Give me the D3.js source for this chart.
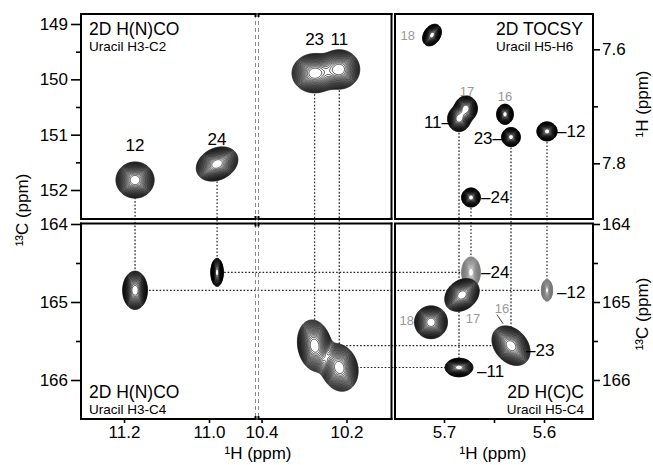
<!DOCTYPE html>
<html>
<head>
<meta charset="utf-8">
<script src="https://cdn.jsdelivr.net/npm/d3@7"></script>
<style>
  html, body { margin: 0; padding: 0; background: #fff; }
  svg text { font-family: "Liberation Sans", Arial, Helvetica, sans-serif; }
</style>
</head>
<body>
<svg id="fig" width="653" height="465"></svg>
<script>
// ---- Uracil assignments (residue numbers) and chemical shifts (ppm) ----
const residues = ["12", "24", "23", "11"];
const h3Shift = [11.174, 10.981, 10.275, 10.217];   // imino H3
const c2Shift = [151.82, 151.53, 149.89, 149.82];   // C2
const c4Shift = [164.85, 164.62, 165.56, 165.84];   // C4
const h5Shift = [5.597, 5.673, 5.633, 5.685];       // H5
const h6Shift = [7.744, 7.860, 7.754, 7.722];       // H6

// Cross-peak line shapes: [sigma 1H, sigma 13C/1H (ppm), correlation]
const c2Shape  = [[0.0177, 0.129, 0], [0.0193, 0.122, 0.25], [0.021, 0.140, 0], [0.019, 0.140, 0]];
const c4Shape  = [[0.0115, 0.097, 0], [0.0058, 0.071, 0], [0.0160, 0.130, -0.15], [0.0175, 0.120, -0.15]];
const h6Shape  = [[0.004, 0.0066, 0], [0.0037, 0.0066, 0], [0.0037, 0.0066, 0], [0.0045, 0.0088, 0]];
const hccShape = [[0.0022, 0.055, 0], [0.0037, 0.078, 0], [0.0075, 0.100, -0.3], [0.0055, 0.047, 0]];
const hccFaint = ["12", "24"];

// Residues without H3 correlations (grey labels)
const otherRes     = ["16", "17", "18"];
const otherH5Tocsy = [5.639, 5.678, 5.712];
const otherH6      = [7.714, 7.704, 7.575];
const otherH6Shape = [[0.0033, 0.0070, 0], [0.0045, 0.0088, 0], [0.0037, 0.0075, 0.3]];
const otherH5Hcc   = [null, 5.682, 5.713];          // 16 overlaps residue 23 in H(C)C
const otherC4      = [null, 164.91, 165.26];
const otherC4Shape = [null, [0.0068, 0.083, 0.25], [0.0065, 0.083, 0]];

// Axis ticks
const c2Ticks = [149, 150, 151, 152], c2Minor = [149.5, 150.5, 151.5];
const c4Ticks = [164, 165, 166],      c4Minor = [164.5, 165.5];
const h6Ticks = [7.6, 7.8],           h6Minor = [7.7];
const h3Ticks = [11.2, 11.0, 10.4, 10.2];
const h5Ticks = [5.7, 5.6],           h5Minor = [5.65];

// ---- layout ----
const svg = d3.select("#fig");
const L = 81, BL = 255.5, BR = 258.5, ML = 391.5, MR = 395, R = 593;
const T = 14, MT = 219, MB = 223.5, B = 419;

// Scales (1H axis of the H(N)CO panels is broken between 10.89 and 10.41 ppm)
const xH3 = d3.scaleLinear().domain([11.3012, 10.8906, 10.4071, 10.0941]).range([L, BL, BR, ML]);
const xH5 = d3.scaleLinear().domain([5.749, 5.551]).range([MR, R]);
const yC2 = d3.scaleLinear().domain([149, 152]).range([24, 190]);
const yC4 = d3.scaleLinear().domain([164, 166]).range([224, 380]);
const yH6 = d3.scaleLinear().domain([7.6, 7.8]).range([49.3, 163.3]);

const panels = {
  tl: {x0: L,  x1: ML, y0: T,  y1: MT},
  tr: {x0: MR, x1: R,  y0: T,  y1: MT},
  bl: {x0: L,  x1: ML, y0: MB, y1: B},
  br: {x0: MR, x1: R,  y0: MB, y1: B}
};

const defs = svg.append("defs");
Object.entries(panels).forEach(([k, p]) => {
  defs.append("clipPath").attr("id", "clip-" + k)
    .append("rect").attr("x", p.x0 + 1).attr("y", p.y0 + 1)
    .attr("width", p.x1 - p.x0 - 2).attr("height", p.y1 - p.y0 - 2);
});

function peak(x, y, shape) {
  return {x, y, sx: shape[0], sy: shape[1], r: shape[2]};
}

// Peak lists per spectrum
const peaksTL = residues.map((r, i) => peak(h3Shift[i], c2Shift[i], c2Shape[i]));
const peaksBL = residues.map((r, i) => peak(h3Shift[i], c4Shift[i], c4Shape[i]));
const peaksTR = residues.map((r, i) => peak(h5Shift[i], h6Shift[i], h6Shape[i]))
  .concat(otherRes.map((r, i) => peak(otherH5Tocsy[i], otherH6[i], otherH6Shape[i])));
const peaksBRstrong = residues.map((r, i) => hccFaint.includes(r) ? null : peak(h5Shift[i], c4Shift[i], hccShape[i]))
  .concat(otherRes.map((r, i) => otherH5Hcc[i] == null ? null : peak(otherH5Hcc[i], otherC4[i], otherC4Shape[i])))
  .filter(d => d);
const peaksBRfaint = residues.map((r, i) => hccFaint.includes(r) ? peak(h5Shift[i], c4Shift[i], hccShape[i]) : null)
  .filter(d => d);

// ---- dotted connectors (drawn under the contours) ----
const conn = svg.append("g").attr("fill", "none").attr("stroke", "#222")
  .attr("stroke-width", 1.2).attr("stroke-dasharray", "1.6,1.9");
residues.forEach((r, i) => {
  // H3: C2 -> C4
  conn.append("line").attr("x1", xH3(h3Shift[i])).attr("x2", xH3(h3Shift[i]))
    .attr("y1", yC2(c2Shift[i])).attr("y2", yC4(c4Shift[i]));
  // H5: H6 -> C4
  conn.append("line").attr("x1", xH5(h5Shift[i])).attr("x2", xH5(h5Shift[i]))
    .attr("y1", yH6(h6Shift[i])).attr("y2", yC4(c4Shift[i]));
  // C4: H3 -> H5
  conn.append("line").attr("x1", xH3(h3Shift[i])).attr("x2", xH5(h5Shift[i]))
    .attr("y1", yC4(c4Shift[i])).attr("y2", yC4(c4Shift[i]));
});

// ---- break marks on the 1H axis ----
const brk = svg.append("g").attr("stroke", "#8a8a8a").attr("stroke-width", 1)
  .attr("stroke-dasharray", "4,3");
[BL, BR].forEach(x => brk.append("line").attr("x1", x).attr("x2", x).attr("y1", T).attr("y2", B));

// ---- contour plots ----
const levels = d3.range(24).map(k => 0.04 * Math.pow(1.14, k));
function drawSpectrum(key, peaks, xs, ys, color, width) {
  const p = panels[key], s = 2;
  const w = Math.ceil((p.x1 - p.x0) * s), h = Math.ceil((p.y1 - p.y0) * s);
  const colH = Float64Array.from({length: w}, (_, i) => xs.invert(p.x0 + (i + 0.5) / s));
  const values = new Float64Array(w * h);
  for (let j = 0; j < h; j++) {
    const C = ys.invert(p.y0 + (j + 0.5) / s);
    for (let i = 0; i < w; i++) {
      const H = colH[i];
      let v = 0;
      for (const q of peaks) {
        const dx = (H - q.x) / q.sx, dy = (C - q.y) / q.sy;
        const Q = (dx * dx - 2 * q.r * dx * dy + dy * dy) / (1 - q.r * q.r);
        if (Q < 40) v += Math.exp(-0.5 * Q);
      }
      values[j * w + i] = v;
    }
  }
  const contours = d3.contours().size([w, h]).thresholds(levels)(values);
  const path = d3.geoPath(d3.geoIdentity().scale(1 / s).translate([p.x0, p.y0]));
  svg.append("g").attr("clip-path", `url(#clip-${key})`)
    .selectAll("path").data(contours).join("path")
    .attr("d", path)
    .attr("fill", (d, i) => i === 0 ? "#fff" : "none")
    .attr("stroke", color)
    .attr("stroke-width", width)
    .attr("stroke-linejoin", "round");
}
drawSpectrum("tl", peaksTL, xH3, yC2, "#000", 0.7);
drawSpectrum("bl", peaksBL, xH3, yC4, "#000", 0.7);
drawSpectrum("tr", peaksTR, xH5, yH6, "#000", 0.7);
drawSpectrum("br", peaksBRfaint, xH5, yC4, "#777", 0.6);
drawSpectrum("br", peaksBRstrong, xH5, yC4, "#000", 0.7);

// ---- frames ----
const frame = svg.append("g").attr("stroke", "#000").attr("stroke-width", 2)
  .attr("fill", "none").attr("stroke-linecap", "square");
function seg(x1, y1, x2, y2) {
  frame.append("line").attr("x1", x1).attr("y1", y1).attr("x2", x2).attr("y2", y2);
}
[[T, MT], [MB, B]].forEach(([y0, y1]) => {
  // broken left panels
  seg(L, y0, L, y1); seg(ML, y0, ML, y1);
  seg(L, y0, BL, y0); seg(BR, y0, ML, y0);
  seg(L, y1, BL, y1); seg(BR, y1, ML, y1);
  seg(BL, y0, BL, y0 + 2); seg(BR, y0, BR, y0 + 2);
  seg(BL, y1, BL, y1 - 2); seg(BR, y1, BR, y1 - 2);
  // right panels
  frame.append("rect").attr("x", MR).attr("y", y0).attr("width", R - MR).attr("height", y1 - y0);
});

// ---- axes ----
const FS = 17;
function styleAxis(g) {
  g.select(".domain").remove();
  g.selectAll(".tick line").attr("stroke", "#000").attr("stroke-width", 1.6);
  g.selectAll(".tick text").attr("fill", "#000").attr("font-size", FS)
    .style("font-family", '"Liberation Sans", Arial, sans-serif');
}
function axis(gen, tx, ty) {
  svg.append("g").attr("transform", `translate(${tx},${ty})`).call(gen).call(styleAxis);
}
axis(d3.axisLeft(yC2).tickValues(c2Ticks).tickSize(10).tickPadding(3).tickFormat(d3.format("d")), L, 0);
axis(d3.axisLeft(yC2).tickValues(c2Minor).tickSize(5).tickFormat(""), L, 0);
axis(d3.axisLeft(yC4).tickValues(c4Ticks).tickSize(10).tickPadding(3).tickFormat(d3.format("d")), L, 0);
axis(d3.axisLeft(yC4).tickValues(c4Minor).tickSize(5).tickFormat(""), L, 0);
axis(d3.axisBottom(xH3).tickValues(h3Ticks).tickSize(4).tickPadding(3).tickFormat(d3.format(".1f")), 0, B);
axis(d3.axisBottom(xH5).tickValues(h5Ticks).tickSize(4).tickPadding(3).tickFormat(d3.format(".1f")), 0, B);
axis(d3.axisBottom(xH5).tickValues(h5Minor).tickSize(4).tickFormat(""), 0, B);
axis(d3.axisRight(yH6).tickValues(h6Ticks).tickSize(7).tickPadding(2).tickFormat(d3.format(".1f")), R, 0);
axis(d3.axisRight(yH6).tickValues(h6Minor).tickSize(5).tickFormat(""), R, 0);
axis(d3.axisRight(yC4).tickValues(c4Ticks).tickSize(7).tickPadding(2).tickFormat(d3.format("d")), R, 0);
axis(d3.axisRight(yC4).tickValues(c4Minor).tickSize(5).tickFormat(""), R, 0);

// axis titles
function title(txt, x, y, rot) {
  svg.append("text").attr("transform", `translate(${x},${y}) rotate(${rot})`)
    .attr("text-anchor", "middle").attr("font-size", FS).attr("fill", "#000").text(txt);
}
title("¹³C (ppm)", 28, 210, -90);
title("¹H (ppm)", 648, 104, -90);
title("¹³C (ppm)", 648, 314, -90);
title("¹H (ppm)", 258, 459, 0);
title("¹H (ppm)", 493, 459, 0);

// ---- panel captions ----
function txt(t, x, y, size, anchor, color) {
  svg.append("text").attr("x", x).attr("y", y).attr("font-size", size)
    .attr("text-anchor", anchor || "start").attr("fill", color || "#000").text(t);
}
txt("2D H(N)CO", 89, 35, 17.5);
txt("Uracil H3-C2", 89, 51, 13.5);
txt("2D TOCSY", 496, 35, 17.5);
txt("Uracil H5-H6", 496, 51, 13.5);
txt("2D H(N)CO", 89, 398, 17.5);
txt("Uracil H3-C4", 89, 414, 13.5);
txt("2D H(C)C", 584, 398, 17.5, "end");
txt("Uracil H5-C4", 584, 414, 13.5, "end");

// ---- peak labels ----
const idx = r => residues.indexOf(r);
// H(N)CO H3-C2: labels above peaks
[["12", -29], ["24", -19], ["23", -28], ["11", -24]].forEach(([r, dy]) => {
  const i = idx(r);
  txt(r, xH3(h3Shift[i]), yC2(c2Shift[i]) + dy, FS, "middle");
});
// TOCSY
[["11", "11–", -8, 9, "end"], ["23", "23–", -9, 7, "end"], ["12", "–12", 10, 5.6, "start"], ["24", "–24", 10, 5.5, "start"]]
  .forEach(([r, t, dx, dy, a]) => {
    const i = idx(r);
    txt(t, xH5(h5Shift[i]) + dx, yH6(h6Shift[i]) + dy, FS, a);
  });
[["16", 0, -13, "middle"], ["17", 1, -13, "middle"], ["18", -17, 5, "end"]].forEach(([r, dx, dy, a]) => {
  const i = otherRes.indexOf(r);
  txt(r, xH5(otherH5Tocsy[i]) + dx, yH6(otherH6[i]) + dy, 13, a, "#999");
});
// H(C)C
[["24", "–24", 10, 5.6], ["12", "–12", 10, 7.7], ["23", "–23", 15, 10], ["11", "–11", 18, 9.5]]
  .forEach(([r, t, dx, dy]) => {
    const i = idx(r);
    txt(t, xH5(h5Shift[i]) + dx, yC4(c4Shift[i]) + dy, FS, "start");
  });
[["17", 11, 28, "middle"], ["18", -17, 3, "end"]].forEach(([r, dx, dy, a]) => {
  const i = otherRes.indexOf(r);
  txt(r, xH5(otherH5Hcc[i]) + dx, yC4(otherC4[i]) + dy, 13, a, "#999");
});
// residue 16 overlaps residue 23 in H(C)C
{
  const i = idx("23"), px = xH5(h5Shift[i]), py = yC4(c4Shift[i]);
  txt("16", px - 9, py - 33, 13, "middle", "#999");
  svg.append("line").attr("x1", px - 14).attr("y1", py - 31).attr("x2", px - 8).attr("y2", py - 22)
    .attr("stroke", "#444").attr("stroke-width", 1);
}
</script>
</body>
</html>
